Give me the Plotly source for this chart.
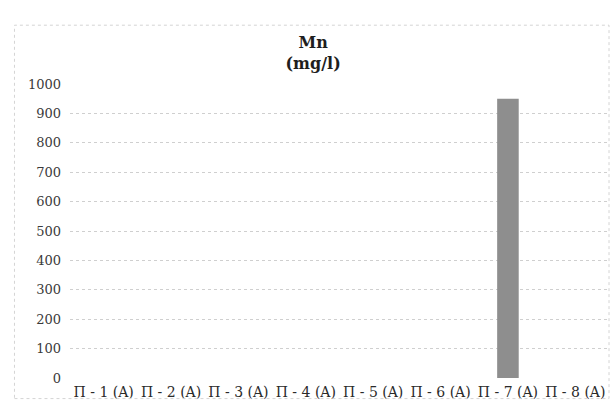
import plotly.graph_objects as go

# Sampling points and measured manganese concentration
categories = ["Π - 1 (A)", "Π - 2 (A)", "Π - 3 (A)", "Π - 4 (A)",
              "Π - 5 (A)", "Π - 6 (A)", "Π - 7 (A)", "Π - 8 (A)"]
mn_values = [0, 0, 0, 0, 0, 0, 950, 0]
y_ticks = [0, 100, 200, 300, 400, 500, 600, 700, 800, 900, 1000]

FONT = "DejaVu Serif"

fig = go.Figure(
    go.Bar(
        x=categories,
        y=mn_values,
        marker=dict(color="#8e8e8e", line=dict(width=0)),
        width=0.32,
    )
)

fig.update_layout(
    width=614,
    height=416,
    margin=dict(l=70, r=5, t=84, b=38),
    paper_bgcolor="white",
    plot_bgcolor="white",
    showlegend=False,
    font=dict(family=FONT, size=13, color="#3a3a3a"),
    title=dict(
        text="<b>Mn<br>(mg/l)</b>",
        x=0.51,
        xanchor="center",
        y=0.885,
        yanchor="bottom",
        font=dict(family=FONT, size=16, color="#1e1e1e"),
    ),
    shapes=[
        dict(type="rect", xref="paper", yref="paper",
             x0=-0.103, x1=1.0, y0=-0.07, y1=1.2,
             line=dict(color="#d4d4d4", width=1, dash="dot"))
    ],
)

fig.update_xaxes(
    showgrid=False,
    showline=False,
    ticks="",
    tickfont=dict(family=FONT, size=14, color="#2a2a2a"),
    ticklabelstandoff=4,
)
fig.update_yaxes(
    range=[0, 1000],
    tickvals=y_ticks,
    showgrid=True,
    gridcolor="#cfcfcf",
    griddash="dot",
    gridwidth=1,
    zeroline=False,
    showline=False,
    ticks="",
    tickfont=dict(family=FONT, size=13, color="#3a3a3a"),
    ticklabelstandoff=8,
)

fig.write_html("out.html")
